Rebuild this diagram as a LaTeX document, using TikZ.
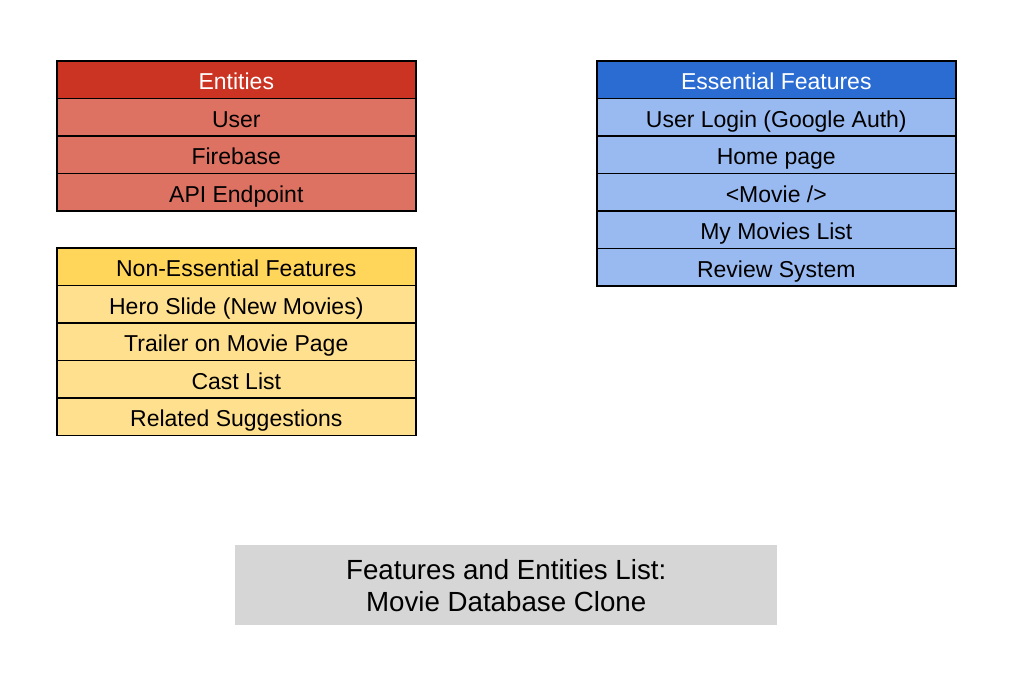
\documentclass[tikz,border=0pt]{standalone}
\usepackage{fontspec}
\setmainfont{Liberation Sans}
\definecolor{redhead}{HTML}{CB3423}
\definecolor{redrow}{HTML}{DD7262}
\definecolor{bluehead}{HTML}{2B6CD3}
\definecolor{bluerow}{HTML}{99BAF0}
\definecolor{yelhead}{HTML}{FFD55A}
\definecolor{yelrow}{HTML}{FFE08F}
\definecolor{titlegray}{HTML}{D6D6D6}
\tikzset{
  cell/.style={draw=black, line width=1.6pt, minimum width=359pt, minimum height=37.5pt,
    inner sep=0pt, text height=20.5pt, text depth=0pt,
    font=\fontsize{23pt}{26pt}\selectfont, text=black, anchor=north west},
  headred/.style={cell, fill=redhead, text=white},
  rowred/.style={cell, fill=redrow},
  headblue/.style={cell, fill=bluehead, text=white},
  rowblue/.style={cell, fill=bluerow},
  headyel/.style={cell, fill=yelhead},
  rowyel/.style={cell, fill=yelrow},
  titlebox/.style={fill=titlegray, minimum width=542pt, minimum height=80pt, inner sep=0pt,
    align=center, font=\fontsize{27.7pt}{32pt}\selectfont, anchor=north west}
}
\begin{document}
\begin{tikzpicture}[x=1pt, y=-1pt]
\useasboundingbox (0,0) rectangle (1017,686);
% Entities
\node[headred] (e0) at (56,60) {Entities};
\node[rowred] (e1) at (56,97.5) {User};
\node[rowred] (e2) at (56,135) {Firebase};
\node[rowred] (e3) at (56,172.5) {API Endpoint};
% Non-essential
\node[headyel] (n0) at (56,247) {Non-Essential Features};
\node[rowyel] (n1) at (56,284.5) {Hero Slide (New Movies)};
\node[rowyel] (n2) at (56,322) {Trailer on Movie Page};
\node[rowyel] (n3) at (56,359.5) {Cast List};
\node[rowyel] (n4) at (56,397) {Related Suggestions};
% Essential
\node[headblue] (f0) at (596,60) {Essential Features};
\node[rowblue] (f1) at (596,97.5) {User Login (Google Auth)};
\node[rowblue] (f2) at (596,135) {Home page};
\node[rowblue] (f3) at (596,172.5) {<Movie />};
\node[rowblue] (f4) at (596,210) {My Movies List};
\node[rowblue] (f5) at (596,247.5) {Review System};
% Title
\node[titlebox] (title) at (235,545) {Features and Entities List:\\Movie Database Clone};
\end{tikzpicture}
\end{document}
